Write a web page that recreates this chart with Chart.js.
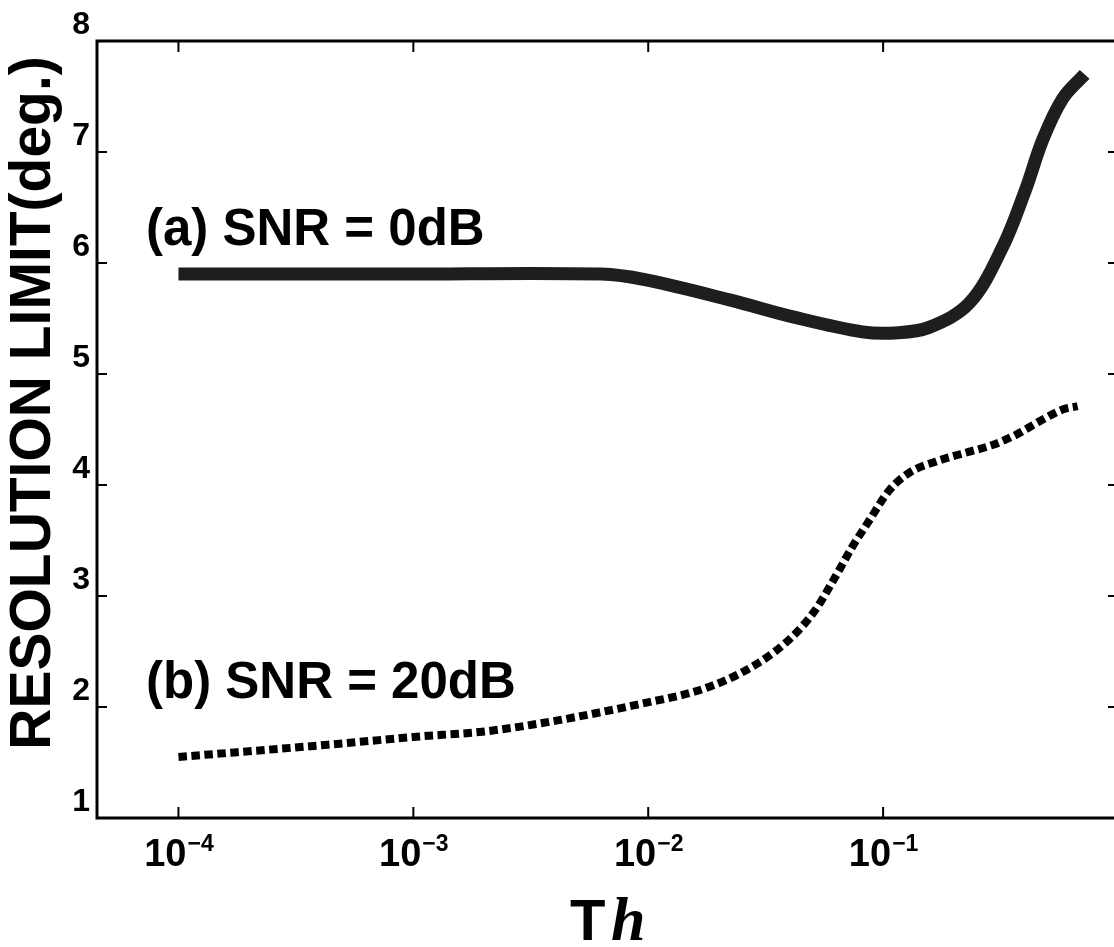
<!DOCTYPE html>
<html>
<head>
<meta charset="utf-8">
<script src="https://cdn.jsdelivr.net/npm/chart.js@4/dist/chart.umd.min.js"></script>
<style>
  html, body { margin: 0; padding: 0; background: #fff; overflow: hidden; }
  #wrap { width: 1120px; height: 947px; }
</style>
</head>
<body>
<div id="wrap"><canvas id="myChart" width="1120" height="947"></canvas></div>
<script>
// values (x = Th, y = resolution limit in degrees)
const snr0X = [1e-4, 8.9e-4, 0.0063, 0.00966, 0.022, 0.0422, 0.0815, 0.1127, 0.157, 0.233, 0.322, 0.404, 0.478, 0.581, 0.721];
const snr0Y = [5.90, 5.90, 5.90, 5.85, 5.67, 5.51, 5.38, 5.37, 5.42, 5.64, 6.14, 6.66, 7.11, 7.48, 7.70];

const snr20X = [1e-4, 4.32e-4, 1e-3, 0.00221, 0.00938, 0.0181, 0.0296, 0.0409, 0.0513, 0.0625, 0.0738, 0.0873, 0.106, 0.129, 0.167, 0.233, 0.292, 0.366, 0.478, 0.581, 0.673];
const snr20Y = [1.55, 1.66, 1.73, 1.79, 2.03, 2.18, 2.40, 2.63, 2.87, 3.17, 3.44, 3.68, 3.95, 4.11, 4.21, 4.30, 4.36, 4.45, 4.59, 4.68, 4.71];

const xTicks = [1e-4, 1e-3, 1e-2, 1e-1];
const xMin = 4.5e-5;
const xMax = 1;
const yMin = 1;
const yMax = 8;

const labelA = '(a) SNR = 0dB';
const labelB = '(b) SNR = 20dB';
const yTitle = 'RESOLUTION LIMIT(deg.)';

const sans = "'Liberation Sans', Arial, Helvetica, sans-serif";

function toPoints(xs, ys) {
  return xs.map((v, i) => ({ x: v, y: ys[i] }));
}

// box, inward ticks, x tick labels with exponents, titles and notes
const decorations = {
  id: 'decorations',
  afterDraw(chart) {
    const ctx = chart.ctx;
    const a = chart.chartArea;
    const x = chart.scales.x;
    const y = chart.scales.y;
    ctx.save();
    ctx.strokeStyle = '#000';
    ctx.fillStyle = '#000';

    ctx.lineWidth = 3;
    ctx.strokeRect(a.left, a.top, a.right - a.left, a.bottom - a.top);

    ctx.lineWidth = 2;
    ctx.beginPath();
    x.ticks.forEach(t => {
      const px = x.getPixelForValue(t.value);
      ctx.moveTo(px, a.bottom); ctx.lineTo(px, a.bottom - 11);
      ctx.moveTo(px, a.top); ctx.lineTo(px, a.top + 11);
    });
    y.ticks.forEach(t => {
      const py = y.getPixelForValue(t.value);
      ctx.moveTo(a.left, py); ctx.lineTo(a.left + 10, py);
      ctx.moveTo(a.right, py); ctx.lineTo(a.right - 10, py);
    });
    ctx.stroke();

    // x tick labels: 10 with a raised exponent
    ctx.textBaseline = 'alphabetic';
    ctx.textAlign = 'left';
    x.ticks.forEach(t => {
      const px = x.getPixelForValue(t.value);
      const exp = '\u2212' + Math.abs(Math.round(Math.log10(t.value)));
      ctx.font = 'bold 38px ' + sans;
      const w1 = ctx.measureText('10').width;
      ctx.font = 'bold 23px ' + sans;
      const w2 = ctx.measureText(exp).width;
      const left = px - (w1 + w2) / 2;
      ctx.font = 'bold 38px ' + sans;
      ctx.fillText('10', left, 866);
      ctx.font = 'bold 23px ' + sans;
      ctx.fillText(exp, left + w1 + 1, 851);
    });

    // x title: T h
    ctx.font = 'bold 58px ' + sans;
    ctx.fillText('T', 570, 940);
    ctx.font = "bold italic 62px 'Liberation Serif', 'DejaVu Serif', serif";
    ctx.fillText('h', 611, 940);

    // y title
    ctx.save();
    ctx.translate(50, 403);
    ctx.rotate(-Math.PI / 2);
    ctx.textAlign = 'center';
    ctx.font = 'bold 57px ' + sans;
    ctx.fillText(yTitle, 0, 0);
    ctx.restore();

    // curve notes
    ctx.font = 'bold 51px ' + sans;
    ctx.fillText(labelA, 146, 245);
    ctx.fillText(labelB, 146, 698);

    ctx.restore();
  }
};

window.onload = function() {
  const ctx = document.getElementById('myChart').getContext('2d');
  new Chart(ctx, {
    type: 'line',
    data: {
      datasets: [{
        label: labelA,
        data: toPoints(snr0X, snr0Y),
        borderColor: '#1e1e1e',
        borderWidth: 13,
        borderCapStyle: 'butt',
        pointRadius: 0,
        fill: false,
        tension: 0.35
      }, {
        label: labelB,
        data: toPoints(snr20X, snr20Y),
        borderColor: '#000',
        borderWidth: 8,
        borderDash: [8.5, 4.5],
        borderCapStyle: 'butt',
        pointRadius: 0,
        fill: false,
        cubicInterpolationMode: 'monotone'
      }]
    },
    options: {
      responsive: false,
      animation: false,
      layout: { padding: { top: 41, right: 2, left: 0, bottom: 0 } },
      plugins: {
        legend: { display: false },
        tooltip: { enabled: false }
      },
      scales: {
        x: {
          type: 'logarithmic',
          min: xMin,
          max: xMax,
          grid: { display: false, drawTicks: false },
          border: { display: false },
          ticks: { display: false },
          afterBuildTicks: scale => { scale.ticks = xTicks.map(v => ({ value: v })); },
          afterFit: scale => { scale.height = 129; }
        },
        y: {
          min: yMin,
          max: yMax,
          grid: { display: false, drawTicks: false },
          border: { display: false },
          ticks: {
            stepSize: 1,
            autoSkip: false,
            color: '#000',
            padding: 7,
            labelOffset: -16,
            font: { family: sans, size: 32, weight: 'bold' }
          },
          afterFit: scale => { scale.width = 97; }
        }
      }
    },
    plugins: [decorations]
  });
};
</script>
</body>
</html>
